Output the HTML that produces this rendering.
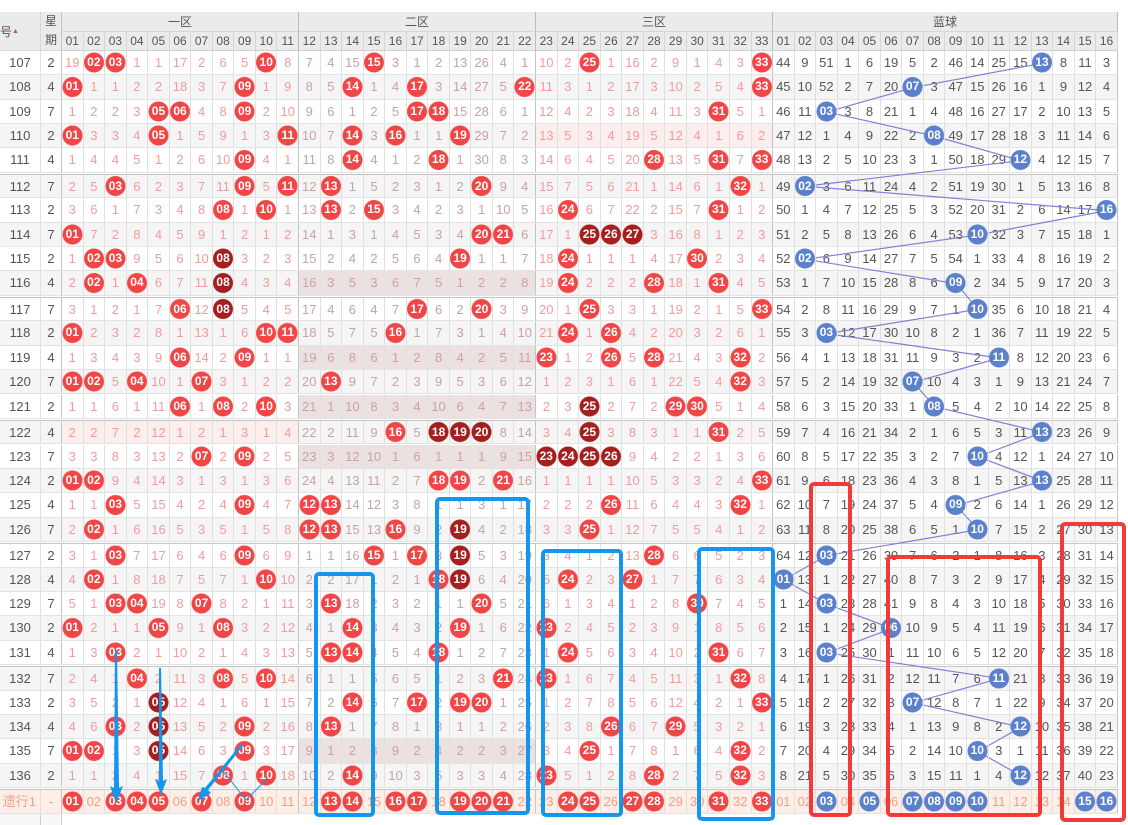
<!DOCTYPE html>
<html><head><meta charset="utf-8">
<style>
html,body{margin:0;padding:0;background:#fff;}
body{width:1128px;height:824px;position:relative;overflow:hidden;font-family:"Liberation Sans","Noto Sans CJK SC",sans-serif;}
.h{position:absolute;background:#ebebeb;color:#555;font-size:12px;text-align:center;box-sizing:border-box;border-right:1px solid #d6d6d6;border-bottom:1px solid #d6d6d6;}
.hr{position:absolute;left:62px;top:32px;height:19px;display:flex;}
.hr span{flex:none;width:21.55px;height:19px;line-height:19px;box-sizing:border-box;border-right:1px solid #d6d6d6;background:#ebebeb;color:#555;font-size:12px;text-align:center;border-bottom:1px solid #d0d0d0;}
.hr span:nth-child(11),.hr span:nth-child(22),.hr span:nth-child(33){border-right:1px solid #bbb;}
.r{position:absolute;left:0;display:flex;height:24.35px;width:1118px;box-sizing:border-box;border-bottom:1px solid #e3e3e3;background:#fff;}
.r.e{background:#f5f5f5;}
.r.t{border-top:1px solid #c4c4c4;}
.r>*{flex:none;width:21.55px;height:100%;box-sizing:border-box;border-right:1px solid #e0e0e0;text-align:center;font-style:normal;font-weight:normal;font-size:13px;line-height:23px;color:#f39b9b;}
.r>:first-child{width:41px;color:#555;}
.r>:nth-child(2){width:21px;color:#555;border-right:1px solid #c4c4c4;}
.r>:nth-child(n+14):nth-child(-n+24){color:#c9a2a2;}
.r>:nth-child(n+36){color:#555;}
.r>:nth-child(13),.r>:nth-child(24),.r>:nth-child(35),.r>:nth-child(51){border-right:1px solid #c4c4c4;}
.r.g2>:nth-child(n+14):nth-child(-n+24){background:#ece1e1;}
.r.p1>:nth-child(n+3):nth-child(-n+13){background:#fdeeee;}
.r.p3>:nth-child(n+25):nth-child(-n+35){background:#fdeeee;}
.r>b{position:relative;z-index:2;color:#fff !important;font-weight:bold;font-size:12px;background:radial-gradient(circle 10.5px at 50% 50%,#f24545 9.6px,rgba(242,69,69,0) 10.4px) !important;}
.r>b.d{background:radial-gradient(circle 10.5px at 50% 50%,#a51f1f 9.6px,rgba(165,31,31,0) 10.4px) !important;}
.r>b:nth-child(n+36){background:radial-gradient(circle 10.5px at 50% 50%,#5b80cc 9.6px,rgba(91,128,204,0) 10.4px) !important;}
.r.f{background:#fdefe8;}
.r.f>i{color:#f3a080 !important;}
.r.f>:first-child{color:#f3a080;text-align:right;padding-right:4px;}
svg{position:absolute;left:0;top:0;}
</style></head><body>
<div class="h" style="left:0;top:12px;width:41px;height:39px;line-height:39px;text-align:left;font-size:12px;">号<span style="font-size:7px;color:#e44;vertical-align:3px">▲</span></div>
<div class="h" style="left:41px;top:12px;width:21px;height:39px;line-height:19px;border-right:1px solid #c4c4c4;">星<br>期</div>
<div class="h" style="left:62px;top:12px;width:237px;height:20px;line-height:20px;border-right:1px solid #bbb;">一区</div>
<div class="h" style="left:299px;top:12px;width:237px;height:20px;line-height:20px;border-right:1px solid #bbb;">二区</div>
<div class="h" style="left:536px;top:12px;width:237px;height:20px;line-height:20px;border-right:1px solid #bbb;">三区</div>
<div class="h" style="left:773px;top:12px;width:345px;height:20px;line-height:20px;border-right:1px solid #bbb;">蓝球</div>
<div class="hr"><span>01</span><span>02</span><span>03</span><span>04</span><span>05</span><span>06</span><span>07</span><span>08</span><span>09</span><span>10</span><span>11</span><span>12</span><span>13</span><span>14</span><span>15</span><span>16</span><span>17</span><span>18</span><span>19</span><span>20</span><span>21</span><span>22</span><span>23</span><span>24</span><span>25</span><span>26</span><span>27</span><span>28</span><span>29</span><span>30</span><span>31</span><span>32</span><span>33</span><span>01</span><span>02</span><span>03</span><span>04</span><span>05</span><span>06</span><span>07</span><span>08</span><span>09</span><span>10</span><span>11</span><span>12</span><span>13</span><span>14</span><span>15</span><span>16</span></div>

<div class="r" style="top:51px"><i>107</i><i>2</i><i>19</i><b>02</b><b>03</b><i>1</i><i>1</i><i>17</i><i>2</i><i>6</i><i>5</i><b>10</b><i>8</i><i>7</i><i>4</i><i>15</i><b>15</b><i>3</i><i>1</i><i>2</i><i>13</i><i>26</i><i>4</i><i>1</i><i>10</i><i>2</i><b>25</b><i>1</i><i>16</i><i>2</i><i>9</i><i>1</i><i>4</i><i>3</i><b>33</b><i>44</i><i>9</i><i>51</i><i>1</i><i>6</i><i>19</i><i>5</i><i>2</i><i>46</i><i>14</i><i>25</i><i>15</i><b>13</b><i>8</i><i>11</i><i>3</i></div>
<div class="r e" style="top:75.35px"><i>108</i><i>4</i><b>01</b><i>1</i><i>1</i><i>2</i><i>2</i><i>18</i><i>3</i><i>7</i><b>09</b><i>1</i><i>9</i><i>8</i><i>5</i><b>14</b><i>1</i><i>4</i><b>17</b><i>3</i><i>14</i><i>27</i><i>5</i><b>22</b><i>11</i><i>3</i><i>1</i><i>2</i><i>17</i><i>3</i><i>10</i><i>2</i><i>5</i><i>4</i><b>33</b><i>45</i><i>10</i><i>52</i><i>2</i><i>7</i><i>20</i><b>07</b><i>3</i><i>47</i><i>15</i><i>26</i><i>16</i><i>1</i><i>9</i><i>12</i><i>4</i></div>
<div class="r" style="top:99.7px"><i>109</i><i>7</i><i>1</i><i>2</i><i>2</i><i>3</i><b>05</b><b>06</b><i>4</i><i>8</i><b>09</b><i>2</i><i>10</i><i>9</i><i>6</i><i>1</i><i>2</i><i>5</i><b>17</b><b>18</b><i>15</i><i>28</i><i>6</i><i>1</i><i>12</i><i>4</i><i>2</i><i>3</i><i>18</i><i>4</i><i>11</i><i>3</i><b>31</b><i>5</i><i>1</i><i>46</i><i>11</i><b>03</b><i>3</i><i>8</i><i>21</i><i>1</i><i>4</i><i>48</i><i>16</i><i>27</i><i>17</i><i>2</i><i>10</i><i>13</i><i>5</i></div>
<div class="r e p3" style="top:124.05px"><i>110</i><i>2</i><b>01</b><i>3</i><i>3</i><i>4</i><b>05</b><i>1</i><i>5</i><i>9</i><i>1</i><i>3</i><b>11</b><i>10</i><i>7</i><b>14</b><i>3</i><b>16</b><i>1</i><i>1</i><b>19</b><i>29</i><i>7</i><i>2</i><i>13</i><i>5</i><i>3</i><i>4</i><i>19</i><i>5</i><i>12</i><i>4</i><i>1</i><i>6</i><i>2</i><i>47</i><i>12</i><i>1</i><i>4</i><i>9</i><i>22</i><i>2</i><b>08</b><i>49</i><i>17</i><i>28</i><i>18</i><i>3</i><i>11</i><i>14</i><i>6</i></div>
<div class="r" style="top:148.4px"><i>111</i><i>4</i><i>1</i><i>4</i><i>4</i><i>5</i><i>1</i><i>2</i><i>6</i><i>10</i><b>09</b><i>4</i><i>1</i><i>11</i><i>8</i><b>14</b><i>4</i><i>1</i><i>2</i><b>18</b><i>1</i><i>30</i><i>8</i><i>3</i><i>14</i><i>6</i><i>4</i><i>5</i><i>20</i><b>28</b><i>13</i><i>5</i><b>31</b><i>7</i><b>33</b><i>48</i><i>13</i><i>2</i><i>5</i><i>10</i><i>23</i><i>3</i><i>1</i><i>50</i><i>18</i><i>29</i><b>12</b><i>4</i><i>12</i><i>15</i><i>7</i></div>

<div class="r e t" style="top:174.05px"><i>112</i><i>7</i><i>2</i><i>5</i><b>03</b><i>6</i><i>2</i><i>3</i><i>7</i><i>11</i><b>09</b><i>5</i><b>11</b><i>12</i><b>13</b><i>1</i><i>5</i><i>2</i><i>3</i><i>1</i><i>2</i><b>20</b><i>9</i><i>4</i><i>15</i><i>7</i><i>5</i><i>6</i><i>21</i><i>1</i><i>14</i><i>6</i><i>1</i><b>32</b><i>1</i><i>49</i><b>02</b><i>3</i><i>6</i><i>11</i><i>24</i><i>4</i><i>2</i><i>51</i><i>19</i><i>30</i><i>1</i><i>5</i><i>13</i><i>16</i><i>8</i></div>
<div class="r" style="top:198.4px"><i>113</i><i>2</i><i>3</i><i>6</i><i>1</i><i>7</i><i>3</i><i>4</i><i>8</i><b>08</b><i>1</i><b>10</b><i>1</i><i>13</i><b>13</b><i>2</i><b>15</b><i>3</i><i>4</i><i>2</i><i>3</i><i>1</i><i>10</i><i>5</i><i>16</i><b>24</b><i>6</i><i>7</i><i>22</i><i>2</i><i>15</i><i>7</i><b>31</b><i>1</i><i>2</i><i>50</i><i>1</i><i>4</i><i>7</i><i>12</i><i>25</i><i>5</i><i>3</i><i>52</i><i>20</i><i>31</i><i>2</i><i>6</i><i>14</i><i>17</i><b>16</b></div>
<div class="r e" style="top:222.75px"><i>114</i><i>7</i><b>01</b><i>7</i><i>2</i><i>8</i><i>4</i><i>5</i><i>9</i><i>1</i><i>2</i><i>1</i><i>2</i><i>14</i><i>1</i><i>3</i><i>1</i><i>4</i><i>5</i><i>3</i><i>4</i><b>20</b><b>21</b><i>6</i><i>17</i><i>1</i><b class="d">25</b><b class="d">26</b><b class="d">27</b><i>3</i><i>16</i><i>8</i><i>1</i><i>2</i><i>3</i><i>51</i><i>2</i><i>5</i><i>8</i><i>13</i><i>26</i><i>6</i><i>4</i><i>53</i><b>10</b><i>32</i><i>3</i><i>7</i><i>15</i><i>18</i><i>1</i></div>
<div class="r" style="top:247.1px"><i>115</i><i>2</i><i>1</i><b>02</b><b>03</b><i>9</i><i>5</i><i>6</i><i>10</i><b class="d">08</b><i>3</i><i>2</i><i>3</i><i>15</i><i>2</i><i>4</i><i>2</i><i>5</i><i>6</i><i>4</i><b>19</b><i>1</i><i>1</i><i>7</i><i>18</i><b>24</b><i>1</i><i>1</i><i>1</i><i>4</i><i>17</i><b>30</b><i>2</i><i>3</i><i>4</i><i>52</i><b>02</b><i>6</i><i>9</i><i>14</i><i>27</i><i>7</i><i>5</i><i>54</i><i>1</i><i>33</i><i>4</i><i>8</i><i>16</i><i>19</i><i>2</i></div>
<div class="r e g2" style="top:271.45px"><i>116</i><i>4</i><i>2</i><b>02</b><i>1</i><b>04</b><i>6</i><i>7</i><i>11</i><b class="d">08</b><i>4</i><i>3</i><i>4</i><i>16</i><i>3</i><i>5</i><i>3</i><i>6</i><i>7</i><i>5</i><i>1</i><i>2</i><i>2</i><i>8</i><i>19</i><b>24</b><i>2</i><i>2</i><i>2</i><b>28</b><i>18</i><i>1</i><b>31</b><i>4</i><i>5</i><i>53</i><i>1</i><i>7</i><i>10</i><i>15</i><i>28</i><i>8</i><i>6</i><b>09</b><i>2</i><i>34</i><i>5</i><i>9</i><i>17</i><i>20</i><i>3</i></div>

<div class="r t" style="top:297.1px"><i>117</i><i>7</i><i>3</i><i>1</i><i>2</i><i>1</i><i>7</i><b>06</b><i>12</i><b class="d">08</b><i>5</i><i>4</i><i>5</i><i>17</i><i>4</i><i>6</i><i>4</i><i>7</i><b>17</b><i>6</i><i>2</i><b>20</b><i>3</i><i>9</i><i>20</i><i>1</i><b>25</b><i>3</i><i>3</i><i>1</i><i>19</i><i>2</i><i>1</i><i>5</i><b>33</b><i>54</i><i>2</i><i>8</i><i>11</i><i>16</i><i>29</i><i>9</i><i>7</i><i>1</i><b>10</b><i>35</i><i>6</i><i>10</i><i>18</i><i>21</i><i>4</i></div>
<div class="r e" style="top:321.45px"><i>118</i><i>2</i><b>01</b><i>2</i><i>3</i><i>2</i><i>8</i><i>1</i><i>13</i><i>1</i><i>6</i><b>10</b><b>11</b><i>18</i><i>5</i><i>7</i><i>5</i><b>16</b><i>1</i><i>7</i><i>3</i><i>1</i><i>4</i><i>10</i><i>21</i><b>24</b><i>1</i><b>26</b><i>4</i><i>2</i><i>20</i><i>3</i><i>2</i><i>6</i><i>1</i><i>55</i><i>3</i><b>03</b><i>12</i><i>17</i><i>30</i><i>10</i><i>8</i><i>2</i><i>1</i><i>36</i><i>7</i><i>11</i><i>19</i><i>22</i><i>5</i></div>
<div class="r g2" style="top:345.8px"><i>119</i><i>4</i><i>1</i><i>3</i><i>4</i><i>3</i><i>9</i><b>06</b><i>14</i><i>2</i><b>09</b><i>1</i><i>1</i><i>19</i><i>6</i><i>8</i><i>6</i><i>1</i><i>2</i><i>8</i><i>4</i><i>2</i><i>5</i><i>11</i><b>23</b><i>1</i><i>2</i><b>26</b><i>5</i><b>28</b><i>21</i><i>4</i><i>3</i><b>32</b><i>2</i><i>56</i><i>4</i><i>1</i><i>13</i><i>18</i><i>31</i><i>11</i><i>9</i><i>3</i><i>2</i><b>11</b><i>8</i><i>12</i><i>20</i><i>23</i><i>6</i></div>
<div class="r e" style="top:370.15px"><i>120</i><i>7</i><b>01</b><b>02</b><i>5</i><b>04</b><i>10</i><i>1</i><b>07</b><i>3</i><i>1</i><i>2</i><i>2</i><i>20</i><b>13</b><i>9</i><i>7</i><i>2</i><i>3</i><i>9</i><i>5</i><i>3</i><i>6</i><i>12</i><i>1</i><i>2</i><i>3</i><i>1</i><i>6</i><i>1</i><i>22</i><i>5</i><i>4</i><b>32</b><i>3</i><i>57</i><i>5</i><i>2</i><i>14</i><i>19</i><i>32</i><b>07</b><i>10</i><i>4</i><i>3</i><i>1</i><i>9</i><i>13</i><i>21</i><i>24</i><i>7</i></div>
<div class="r g2" style="top:394.5px"><i>121</i><i>2</i><i>1</i><i>1</i><i>6</i><i>1</i><i>11</i><b>06</b><i>1</i><b>08</b><i>2</i><b>10</b><i>3</i><i>21</i><i>1</i><i>10</i><i>8</i><i>3</i><i>4</i><i>10</i><i>6</i><i>4</i><i>7</i><i>13</i><i>2</i><i>3</i><b class="d">25</b><i>2</i><i>7</i><i>2</i><b>29</b><b>30</b><i>5</i><i>1</i><i>4</i><i>58</i><i>6</i><i>3</i><i>15</i><i>20</i><i>33</i><i>1</i><b>08</b><i>5</i><i>4</i><i>2</i><i>10</i><i>14</i><i>22</i><i>25</i><i>8</i></div>

<div class="r e t p1" style="top:420.15px"><i>122</i><i>4</i><i>2</i><i>2</i><i>7</i><i>2</i><i>12</i><i>1</i><i>2</i><i>1</i><i>3</i><i>1</i><i>4</i><i>22</i><i>2</i><i>11</i><i>9</i><b>16</b><i>5</i><b class="d">18</b><b class="d">19</b><b class="d">20</b><i>8</i><i>14</i><i>3</i><i>4</i><b class="d">25</b><i>3</i><i>8</i><i>3</i><i>1</i><i>1</i><b>31</b><i>2</i><i>5</i><i>59</i><i>7</i><i>4</i><i>16</i><i>21</i><i>34</i><i>2</i><i>1</i><i>6</i><i>5</i><i>3</i><i>11</i><b>13</b><i>23</i><i>26</i><i>9</i></div>
<div class="r g2" style="top:444.5px"><i>123</i><i>7</i><i>3</i><i>3</i><i>8</i><i>3</i><i>13</i><i>2</i><b>07</b><i>2</i><b>09</b><i>2</i><i>5</i><i>23</i><i>3</i><i>12</i><i>10</i><i>1</i><i>6</i><i>1</i><i>1</i><i>1</i><i>9</i><i>15</i><b class="d">23</b><b class="d">24</b><b class="d">25</b><b class="d">26</b><i>9</i><i>4</i><i>2</i><i>2</i><i>1</i><i>3</i><i>6</i><i>60</i><i>8</i><i>5</i><i>17</i><i>22</i><i>35</i><i>3</i><i>2</i><i>7</i><b>10</b><i>4</i><i>12</i><i>1</i><i>24</i><i>27</i><i>10</i></div>
<div class="r e" style="top:468.85px"><i>124</i><i>2</i><b>01</b><b>02</b><i>9</i><i>4</i><i>14</i><i>3</i><i>1</i><i>3</i><i>1</i><i>3</i><i>6</i><i>24</i><i>4</i><i>13</i><i>11</i><i>2</i><i>7</i><b>18</b><b>19</b><i>2</i><b>21</b><i>16</i><i>1</i><i>1</i><i>1</i><i>1</i><i>10</i><i>5</i><i>3</i><i>3</i><i>2</i><i>4</i><b>33</b><i>61</i><i>9</i><i>6</i><i>18</i><i>23</i><i>36</i><i>4</i><i>3</i><i>8</i><i>1</i><i>5</i><i>13</i><b>13</b><i>25</i><i>28</i><i>11</i></div>
<div class="r" style="top:493.2px"><i>125</i><i>4</i><i>1</i><i>1</i><b>03</b><i>5</i><i>15</i><i>4</i><i>2</i><i>4</i><b>09</b><i>4</i><i>7</i><b>12</b><b>13</b><i>14</i><i>12</i><i>3</i><i>8</i><i>1</i><i>1</i><i>3</i><i>1</i><i>17</i><i>2</i><i>2</i><i>2</i><b>26</b><i>11</i><i>6</i><i>4</i><i>4</i><i>3</i><b>32</b><i>1</i><i>62</i><i>10</i><i>7</i><i>19</i><i>24</i><i>37</i><i>5</i><i>4</i><b>09</b><i>2</i><i>6</i><i>14</i><i>1</i><i>26</i><i>29</i><i>12</i></div>
<div class="r e" style="top:517.55px"><i>126</i><i>7</i><i>2</i><b>02</b><i>1</i><i>6</i><i>16</i><i>5</i><i>3</i><i>5</i><i>1</i><i>5</i><i>8</i><b>12</b><b>13</b><i>15</i><i>13</i><b>16</b><i>9</i><i>2</i><b class="d">19</b><i>4</i><i>2</i><i>18</i><i>3</i><i>3</i><b>25</b><i>1</i><i>12</i><i>7</i><i>5</i><i>5</i><i>4</i><i>1</i><i>2</i><i>63</i><i>11</i><i>8</i><i>20</i><i>25</i><i>38</i><i>6</i><i>5</i><i>1</i><b>10</b><i>7</i><i>15</i><i>2</i><i>27</i><i>30</i><i>13</i></div>

<div class="r t" style="top:543.2px"><i>127</i><i>2</i><i>3</i><i>1</i><b>03</b><i>7</i><i>17</i><i>6</i><i>4</i><i>6</i><b>09</b><i>6</i><i>9</i><i>1</i><i>1</i><i>16</i><b>15</b><i>1</i><b>17</b><i>3</i><b class="d">19</b><i>5</i><i>3</i><i>19</i><i>3</i><i>4</i><i>1</i><i>2</i><i>13</i><b>28</b><i>6</i><i>6</i><i>5</i><i>2</i><i>3</i><i>64</i><i>12</i><b>03</b><i>21</i><i>26</i><i>39</i><i>7</i><i>6</i><i>2</i><i>1</i><i>8</i><i>16</i><i>3</i><i>28</i><i>31</i><i>14</i></div>
<div class="r e" style="top:567.55px"><i>128</i><i>4</i><i>4</i><b>02</b><i>1</i><i>8</i><i>18</i><i>7</i><i>5</i><i>7</i><i>1</i><b>10</b><i>10</i><i>2</i><i>2</i><i>17</i><i>1</i><i>2</i><i>1</i><b>18</b><b class="d">19</b><i>6</i><i>4</i><i>20</i><i>5</i><b>24</b><i>2</i><i>3</i><b>27</b><i>1</i><i>7</i><i>7</i><i>6</i><i>3</i><i>4</i><b>01</b><i>13</i><i>1</i><i>22</i><i>27</i><i>40</i><i>8</i><i>7</i><i>3</i><i>2</i><i>9</i><i>17</i><i>4</i><i>29</i><i>32</i><i>15</i></div>
<div class="r" style="top:591.9px"><i>129</i><i>7</i><i>5</i><i>1</i><b>03</b><b>04</b><i>19</i><i>8</i><b>07</b><i>8</i><i>2</i><i>1</i><i>11</i><i>3</i><b>13</b><i>18</i><i>2</i><i>3</i><i>2</i><i>1</i><i>1</i><b>20</b><i>5</i><i>21</i><i>6</i><i>1</i><i>3</i><i>4</i><i>1</i><i>2</i><i>8</i><b>30</b><i>7</i><i>4</i><i>5</i><i>1</i><i>14</i><b>03</b><i>23</i><i>28</i><i>41</i><i>9</i><i>8</i><i>4</i><i>3</i><i>10</i><i>18</i><i>5</i><i>30</i><i>33</i><i>16</i></div>
<div class="r e" style="top:616.25px"><i>130</i><i>2</i><b>01</b><i>2</i><i>1</i><i>1</i><b>05</b><i>9</i><i>1</i><b>08</b><i>3</i><i>2</i><i>12</i><i>4</i><i>1</i><b>14</b><i>3</i><i>4</i><i>3</i><i>2</i><b>19</b><i>1</i><i>6</i><i>22</i><b>23</b><i>2</i><i>4</i><i>5</i><i>2</i><i>3</i><i>9</i><i>1</i><i>8</i><i>5</i><i>6</i><i>2</i><i>15</i><i>1</i><i>24</i><i>29</i><b>06</b><i>10</i><i>9</i><i>5</i><i>4</i><i>11</i><i>19</i><i>6</i><i>31</i><i>34</i><i>17</i></div>
<div class="r" style="top:640.6px"><i>131</i><i>4</i><i>1</i><i>3</i><b>03</b><i>2</i><i>1</i><i>10</i><i>2</i><i>1</i><i>4</i><i>3</i><i>13</i><i>5</i><b>13</b><b>14</b><i>4</i><i>5</i><i>4</i><b>18</b><i>1</i><i>2</i><i>7</i><i>23</i><i>1</i><b>24</b><i>5</i><i>6</i><i>3</i><i>4</i><i>10</i><i>2</i><b>31</b><i>6</i><i>7</i><i>3</i><i>16</i><b>03</b><i>25</i><i>30</i><i>1</i><i>11</i><i>10</i><i>6</i><i>5</i><i>12</i><i>20</i><i>7</i><i>32</i><i>35</i><i>18</i></div>

<div class="r e t" style="top:666.25px"><i>132</i><i>7</i><i>2</i><i>4</i><i>1</i><b>04</b><i>2</i><i>11</i><i>3</i><b>08</b><i>5</i><b>10</b><i>14</i><i>6</i><i>1</i><i>1</i><i>5</i><i>6</i><i>5</i><i>1</i><i>2</i><i>3</i><b>21</b><i>24</i><b>23</b><i>1</i><i>6</i><i>7</i><i>4</i><i>5</i><i>11</i><i>3</i><i>1</i><b>32</b><i>8</i><i>4</i><i>17</i><i>1</i><i>26</i><i>31</i><i>2</i><i>12</i><i>11</i><i>7</i><i>6</i><b>11</b><i>21</i><i>8</i><i>33</i><i>36</i><i>19</i></div>
<div class="r" style="top:690.6px"><i>133</i><i>2</i><i>3</i><i>5</i><i>2</i><i>1</i><b class="d">05</b><i>12</i><i>4</i><i>1</i><i>6</i><i>1</i><i>15</i><i>7</i><i>2</i><b>14</b><i>6</i><i>7</i><b>17</b><i>2</i><b>19</b><b>20</b><i>1</i><i>25</i><i>1</i><i>2</i><i>7</i><i>8</i><i>5</i><i>6</i><i>12</i><i>4</i><i>2</i><i>1</i><b>33</b><i>5</i><i>18</i><i>2</i><i>27</i><i>32</i><i>3</i><b>07</b><i>12</i><i>8</i><i>7</i><i>1</i><i>22</i><i>9</i><i>34</i><i>37</i><i>20</i></div>
<div class="r e" style="top:714.95px"><i>134</i><i>4</i><i>4</i><i>6</i><b>03</b><i>2</i><b class="d">05</b><i>13</i><i>5</i><i>2</i><b>09</b><i>2</i><i>16</i><i>8</i><b>13</b><i>1</i><i>7</i><i>8</i><i>1</i><i>3</i><i>1</i><i>1</i><i>2</i><i>26</i><i>2</i><i>3</i><i>8</i><b>26</b><i>6</i><i>7</i><b>29</b><i>5</i><i>3</i><i>2</i><i>1</i><i>6</i><i>19</i><i>3</i><i>28</i><i>33</i><i>4</i><i>1</i><i>13</i><i>9</i><i>8</i><i>2</i><b>12</b><i>10</i><i>35</i><i>38</i><i>21</i></div>
<div class="r g2" style="top:739.3px"><i>135</i><i>7</i><b>01</b><b>02</b><i>1</i><i>3</i><b class="d">05</b><i>14</i><i>6</i><i>3</i><b>09</b><i>3</i><i>17</i><i>9</i><i>1</i><i>2</i><i>8</i><i>9</i><i>2</i><i>4</i><i>2</i><i>2</i><i>3</i><i>27</i><i>3</i><i>4</i><b>25</b><i>1</i><i>7</i><i>8</i><i>1</i><i>6</i><i>4</i><b>32</b><i>2</i><i>7</i><i>20</i><i>4</i><i>29</i><i>34</i><i>5</i><i>2</i><i>14</i><i>10</i><b>10</b><i>3</i><i>1</i><i>11</i><i>36</i><i>39</i><i>22</i></div>
<div class="r e" style="top:763.65px"><i>136</i><i>2</i><i>1</i><i>1</i><i>2</i><i>4</i><i>1</i><i>15</i><i>7</i><b>08</b><i>1</i><b>10</b><i>18</i><i>10</i><i>2</i><b>14</b><i>9</i><i>10</i><i>3</i><i>5</i><i>3</i><i>3</i><i>4</i><i>28</i><b>23</b><i>5</i><i>1</i><i>2</i><i>8</i><b>28</b><i>2</i><i>7</i><i>5</i><b>32</b><i>3</i><i>8</i><i>21</i><i>5</i><i>30</i><i>35</i><i>6</i><i>3</i><i>15</i><i>11</i><i>1</i><i>4</i><b>12</b><i>12</i><i>37</i><i>40</i><i>23</i></div>

<div class="r f t" style="top:789.3px"><i>遗行1</i><i>-</i><b>01</b><i>02</i><b>03</b><b>04</b><b>05</b><i>06</i><b>07</b><i>08</i><b>09</b><i>10</i><i>11</i><i>12</i><b>13</b><b>14</b><i>15</i><b>16</b><b>17</b><i>18</i><b>19</b><b>20</b><b>21</b><i>22</i><i>23</i><b>24</b><b>25</b><i>26</i><b>27</b><b>28</b><i>29</i><i>30</i><b>31</b><i>32</i><b>33</b><i>01</i><i>02</i><b>03</b><i>04</i><b>05</b><i>06</i><b>07</b><b>08</b><b>09</b><b>10</b><i>11</i><i>12</i><i>13</i><i>14</i><b>15</b><b>16</b></div>
<div style="position:absolute;left:0;top:813.6px;width:62px;height:11px;background:#f7f7f7;border-right:1px solid #d0d0d0;box-sizing:border-box"></div>
<div style="position:absolute;left:40px;top:813.6px;width:1px;height:11px;background:#d0d0d0"></div>

<svg width="1128" height="824" style="z-index:1">
<polyline fill="none" stroke="#7f82d4" stroke-width="1.2" points="1042.5,63.2 913.2,87.55 827,111.9 934.8,136.25 1021,160.6 805.5,186.25 1107.2,210.6 977.9,234.95 805.5,259.3 956.3,283.65 977.9,309.3 827,333.65 999.4,358 913.2,382.35 934.8,406.7 1042.5,432.35 977.9,456.7 1042.5,481.05 956.3,505.4 977.9,529.75 827,555.4 783.9,579.75 827,604.1 891.7,628.45 827,652.8 999.4,678.45 913.2,702.8 1021,727.15 977.9,751.5 1021,775.85"/>
</svg>
<svg width="1128" height="824" style="z-index:3">
<g fill="none" stroke="#1296ee" stroke-width="4" stroke-linejoin="round">
<rect x="316" y="574" width="57" height="241" rx="3"/>
<rect x="437" y="499" width="91" height="314" rx="3"/>
<rect x="543" y="551" width="78" height="264" rx="3"/>
<rect x="699" y="549" width="74" height="270" rx="3"/>
</g>
<g fill="none" stroke="#f23a3a" stroke-width="4" stroke-linejoin="round">
<rect x="811" y="484" width="39" height="331" rx="3"/>
<rect x="888" y="557" width="152" height="258" rx="3"/>
<rect x="1062" y="524" width="62" height="296" rx="3"/>
</g>
<g fill="#1296ee" stroke="none">
<polygon points="115,650 117,650 119,788 123,786 116,803 110,786 114,788"/>
<polygon points="159,668 161,668 163,781 167,779 161,795 155,779 159,781"/>
<polygon points="241,744 243,746 208,790 211,793 198,801 202,787 205,788"/>
</g>
<polyline fill="none" stroke="#1296ee" stroke-width="1" points="224,772 246,800 268,778"/>
</svg>
</body></html>
